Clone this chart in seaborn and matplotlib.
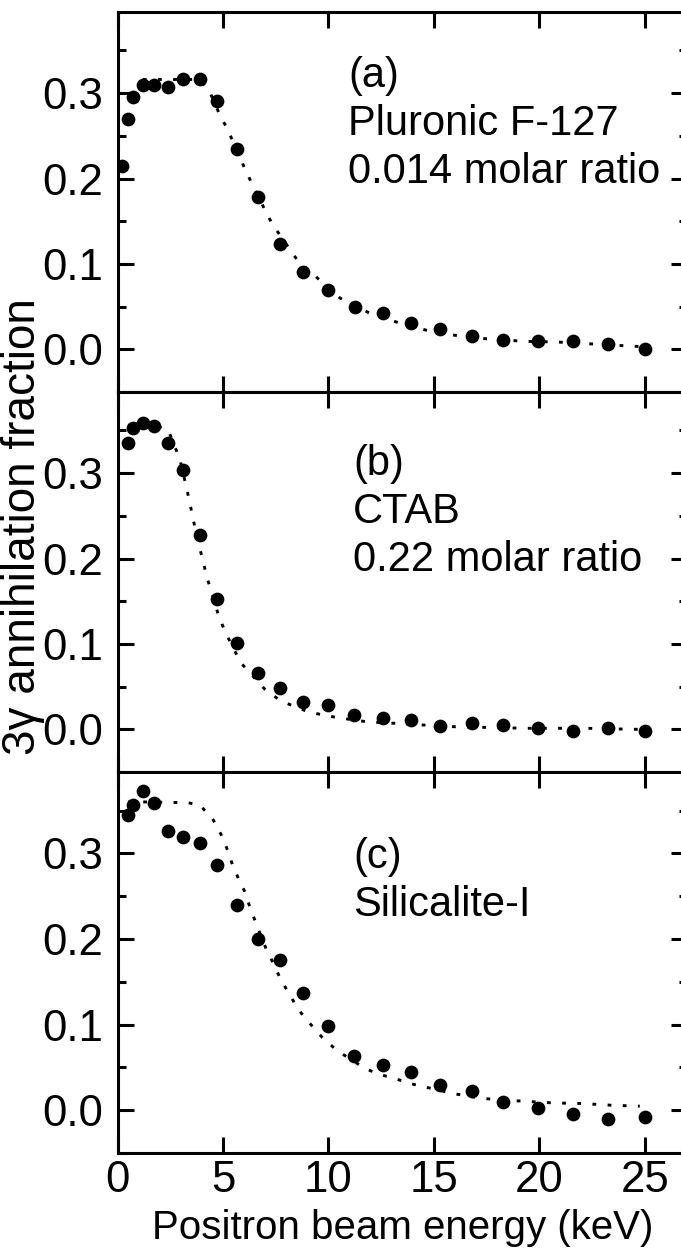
import matplotlib
matplotlib.use("Agg")
import matplotlib.pyplot as plt
from matplotlib.ticker import MultipleLocator, FormatStrFormatter
import seaborn as sns

# Measured 3-gamma annihilation fractions vs positron implantation energy
energy_a = [0.2, 0.5, 0.75, 1.2, 1.75, 2.4, 3.1, 3.9, 4.7, 5.65, 6.65, 7.7,
            8.8, 10.0, 11.25, 12.6, 13.9, 15.3, 16.8, 18.3, 19.95, 21.6, 23.25, 25.0]
frac_a = [0.215, 0.270, 0.296, 0.309, 0.309, 0.307, 0.316, 0.316, 0.291, 0.235,
          0.178, 0.123, 0.090, 0.069, 0.050, 0.042, 0.031, 0.024, 0.016, 0.011,
          0.010, 0.010, 0.006, 0.000]

energy_bc = [0.5, 0.75, 1.2, 1.75, 2.4, 3.1, 3.9, 4.7, 5.65, 6.65, 7.7, 8.8,
             10.0, 11.2, 12.6, 13.9, 15.3, 16.8, 18.3, 19.95, 21.6, 23.25, 25.0]
frac_b = [0.335, 0.353, 0.359, 0.355, 0.335, 0.304, 0.228, 0.153, 0.101, 0.066,
          0.048, 0.032, 0.028, 0.017, 0.013, 0.011, 0.004, 0.007, 0.005, 0.002,
          -0.002, 0.002, -0.002]
frac_c = [0.345, 0.357, 0.373, 0.359, 0.326, 0.319, 0.312, 0.286, 0.240, 0.200,
          0.175, 0.137, 0.098, 0.063, 0.053, 0.045, 0.030, 0.022, 0.009, 0.003,
          -0.005, -0.010, -0.008]

# Fitted diffusion-model curves
fit_a_e = [1.2, 3.9, 4.4, 4.86, 5.22, 6.12, 7.15, 7.54, 8.54, 10.55, 11.93,
           13.3, 14.65, 16.0, 17.4, 19.3, 20.8, 22.2, 24.2, 25.0]
fit_a = [0.316, 0.316, 0.300, 0.274, 0.2575, 0.207, 0.155, 0.1395, 0.104, 0.060,
         0.0426, 0.0313, 0.0223, 0.0164, 0.0125, 0.0093, 0.0086, 0.0067, 0.0039, 0.003]

fit_b_e = [0.5, 1.2, 1.8, 2.41, 2.96, 3.28, 3.44, 3.56, 3.88, 4.07, 4.23, 4.42,
           4.83, 5.17, 5.84, 6.99, 7.70, 8.41, 9.04, 9.75, 10.46, 11.8, 13.15,
           14.5, 16.0, 17.3, 19.4, 20.8, 23.0, 24.3, 25.0]
fit_b = [0.356, 0.358, 0.356, 0.350, 0.316, 0.282, 0.264, 0.249, 0.2136, 0.196,
         0.1785, 0.164, 0.130, 0.111, 0.078, 0.0468, 0.034, 0.0264, 0.0206, 0.0167,
         0.0136, 0.0089, 0.007, 0.005, 0.003, 0.0023, 0.0012, 0.0012, 0.001, 0.0, 0.0]

fit_c_e = [0.5, 1.5, 2.57, 3.28, 3.91, 4.54, 4.9, 5.22, 5.46, 5.73, 6.04, 6.28,
           6.56, 7.07, 7.38, 7.75, 8.18, 8.57, 9.12, 9.68, 10.39, 11.73, 12.44,
           13.15, 13.86, 14.57, 15.9, 17.3, 19.2, 20.65, 22.0, 23.4, 24.76]
fit_c = [0.360, 0.360, 0.3594, 0.3594, 0.3563, 0.339, 0.3224, 0.3037, 0.286,
         0.2707, 0.255, 0.2368, 0.2188, 0.187, 0.172, 0.152, 0.1343, 0.1176,
         0.1013, 0.0857, 0.070, 0.0487, 0.0417, 0.037, 0.0312, 0.0272, 0.0195,
         0.0137, 0.0105, 0.0085, 0.0078, 0.0058, 0.0047]

panel_labels = ["(a)\nPluronic F-127\n0.014 molar ratio",
                "(b)\nCTAB\n0.22 molar ratio",
                "(c)\nSilicalite-I"]
x_ticks = [0, 5, 10, 15, 20, 25]

sns.set_theme(style="ticks")
plt.rcParams["font.family"] = ["Liberation Sans", "DejaVu Sans"]
for key in ("text.color", "axes.labelcolor", "xtick.color", "ytick.color",
            "axes.edgecolor"):
    plt.rcParams[key] = "black"

W, H = 681, 1255
fig = plt.figure(figsize=(W / 100, H / 100), dpi=100)


def px_axes(left, top, right, bottom):
    return fig.add_axes([left / W, 1 - bottom / H, (right - left) / W, (bottom - top) / H])


LEFT, RIGHT = 117.5, 687.0
bounds = [(12, 392), (392, 772), (772, 1153)]
panels = [
    (energy_a, frac_a, fit_a_e, fit_a, (10.93, 0.343)),
    (energy_bc, frac_b, fit_b_e, fit_b, (11.16, 0.334)),
    (energy_bc, frac_c, fit_c_e, fit_c, (11.16, 0.319)),
]

TICK_FS = 31.5
TEXT_FS = 30
for i, ((top, bottom), (ex, fy, fe, ff, tpos)) in enumerate(zip(bounds, panels)):
    ax = px_axes(LEFT, top, RIGHT, bottom)
    sns.lineplot(x=fe, y=ff, ax=ax, color="black", linewidth=2.1,
                 linestyle=(0, (1.3, 3.9)), estimator=None, sort=False, zorder=2)
    sns.scatterplot(x=ex, y=fy, ax=ax, color="black", s=98, linewidth=0, zorder=3)
    ax.set_xlim(0, 27)
    ax.set_ylim(-0.05, 0.395)
    ax.set_xticks(x_ticks)
    ax.yaxis.set_major_locator(MultipleLocator(0.1))
    ax.yaxis.set_minor_locator(MultipleLocator(0.05))
    ax.yaxis.set_major_formatter(FormatStrFormatter("%.1f"))
    ax.tick_params(which="both", direction="in", top=True, right=True,
                   width=2.2, labelsize=TICK_FS, color="black", labelcolor="black")
    ax.tick_params(which="major", length=11.5)
    ax.tick_params(which="minor", length=6)
    ax.tick_params(axis="y", which="major", pad=10)
    ax.tick_params(axis="x", which="major", pad=5)
    for sp in ax.spines.values():
        sp.set_linewidth(2.2)
        sp.set_color("black")
    ax.set_ylabel("")
    ax.set_xlabel("")
    if i < 2:
        ax.tick_params(axis="x", labelbottom=False)
    else:
        ax.set_xlabel("Positron beam energy (keV)", fontsize=29, labelpad=6)
    ax.text(tpos[0], tpos[1], panel_labels[i], fontsize=TEXT_FS, ha="left",
            va="top", linespacing=1.25, color="black")

fig.text(23 / W, 1 - 527 / H, "3\u03b3 annihilation fraction", rotation=90,
         ha="center", va="center", fontsize=33, color="black")

fig.savefig("out.png", dpi=100)
